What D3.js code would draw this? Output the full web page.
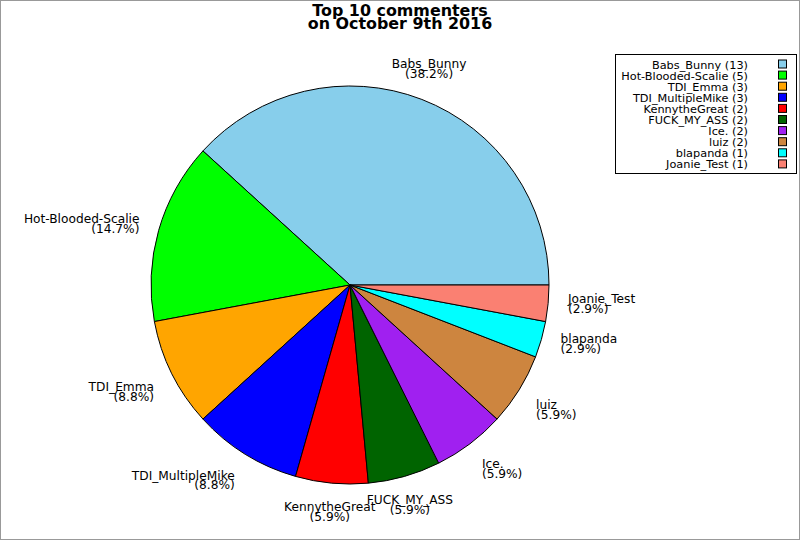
<!DOCTYPE html>
<html>
<head>
<meta charset="utf-8">
<script src="https://cdn.jsdelivr.net/npm/d3@7"></script>
<style>
  html, body { margin: 0; padding: 0; background: #fff; }
  svg { display: block; }
  text { font-family: "DejaVu Sans", sans-serif; fill: #000; }
</style>
</head>
<body>
<div id="chart"></div>
<script>
const titleLines = ["Top 10 commenters", "on October 9th 2016"];
const names = ["Babs_Bunny", "Hot-Blooded-Scalie", "TDI_Emma", "TDI_MultipleMike", "KennytheGreat",
               "FUCK_MY_ASS", "Ice.", "luiz", "blapanda", "Joanie_Test"];
const counts = [13, 5, 3, 3, 2, 2, 2, 2, 1, 1];
const colors = ["#87CEEB", "#00FF00", "#FFA500", "#0000FF", "#FF0000",
                "#006400", "#A020F0", "#CD853F", "#00FFFF", "#FA8072"];

const W = 800, H = 540;
const cx = 350, cy = 285, R = 199;
const total = d3.sum(counts);

const svg = d3.select("#chart").append("svg").attr("width", W).attr("height", H);
svg.append("rect").attr("x", 0.5).attr("y", 0.5).attr("width", W - 1).attr("height", H - 1)
  .attr("fill", "#fff").attr("stroke", "#999");

// Title
const title = svg.append("text").attr("text-anchor", "middle")
  .style("font-weight", "bold").style("font-size", "15.9px");
titleLines.forEach((t, i) => title.append("tspan").attr("x", 400).attr("y", 16 + i * 12.5).text(t));

const data = names.map((n, i) => ({ name: n, count: counts[i], color: colors[i] }));
const pie = d3.pie().value(d => d.count).sort(null)
  .startAngle(Math.PI / 2).endAngle(Math.PI / 2 - 2 * Math.PI);
const arcs = pie(data);
const arc = d3.arc().innerRadius(0).outerRadius(R);

const g = svg.append("g").attr("transform", `translate(${cx},${cy})`);
g.selectAll("path").data(arcs).join("path")
  .attr("d", arc).attr("fill", d => d.data.color)
  .attr("stroke", "#000").attr("stroke-width", 1);

// Labels
const lr = R * 1.1, lineH = 9.8, thr = Math.sin(Math.PI / 8);
arcs.forEach(a => {
  const m = (a.startAngle + a.endAngle) / 2;
  const ux = Math.sin(m), uy = Math.cos(m); // uy: upward component
  const x = cx + lr * ux, y = cy - lr * uy;
  const anchor = ux > thr ? "start" : (ux < -thr ? "end" : "middle");
  let b1;
  if (uy > thr) b1 = y - 3 - lineH;
  else if (uy < -thr) b1 = y + 8.5;
  else b1 = y - 2;
  const pct = "(" + (100 * a.data.count / total).toFixed(1) + "%)";
  const t = svg.append("text").attr("text-anchor", anchor).style("font-size", "12.2px");
  t.append("tspan").attr("x", x).attr("y", b1).text(a.data.name);
  t.append("tspan").attr("x", x).attr("y", b1 + lineH).text(pct);
});

// Legend
svg.append("rect").attr("x", 615.5).attr("y", 54.5).attr("width", 181).attr("height", 119)
  .attr("fill", "#fff").attr("stroke", "#000");
const step = 11.1;
data.forEach((d, i) => {
  const by = 68.5 + i * step;
  svg.append("text").attr("x", 748).attr("y", by).attr("text-anchor", "end")
    .style("font-size", "11.3px").text(`${d.name} (${d.count})`);
  svg.append("rect").attr("x", 778.5).attr("y", by - 8.5).attr("width", 8).attr("height", 8)
    .attr("fill", d.color).attr("stroke", "#000");
});
</script>
</body>
</html>
